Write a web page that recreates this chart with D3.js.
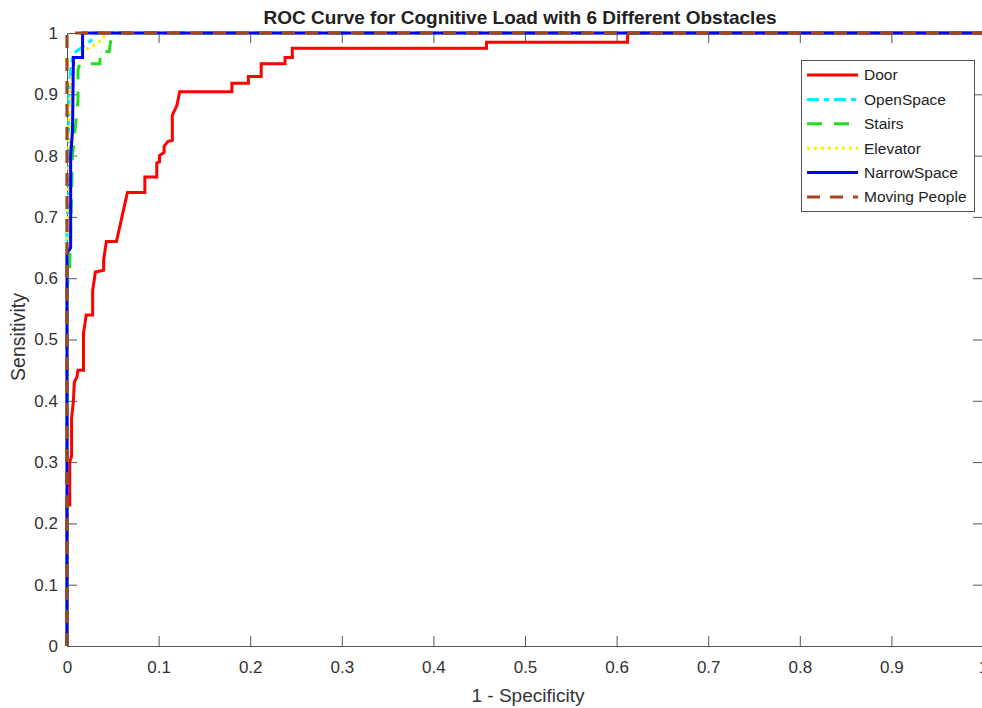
<!DOCTYPE html>
<html>
<head>
<meta charset="utf-8">
<script src="https://cdn.jsdelivr.net/npm/d3@7"></script>
<style>
  html, body { margin: 0; padding: 0; background: #fff; }
  svg { display: block; font-family: "Liberation Sans", Arial, Helvetica, sans-serif; }
</style>
</head>
<body>
<svg id="chart" width="982" height="708"></svg>
<script>
// ---- Data ----
const seriesNames = ["Door", "OpenSpace", "Stairs", "Elevator", "NarrowSpace", "Moving People"];

const doorFPR = [0,0,0.003,0.003,0.005,0.005,0.007,0.008,0.011,0.012,0.018,0.018,0.021,0.028,0.028,0.031,0.04,0.04,0.043,0.054,0.057,0.06,0.063,0.066,0.085,0.085,0.098,0.098,0.101,0.101,0.106,0.106,0.11,0.115,0.115,0.12,0.123,0.18,0.18,0.198,0.198,0.212,0.212,0.238,0.238,0.246,0.246,0.458,0.458,0.612,0.612,1];
const doorTPR = [0,0.23,0.23,0.30,0.31,0.37,0.40,0.43,0.44,0.45,0.45,0.51,0.54,0.54,0.58,0.61,0.613,0.63,0.66,0.66,0.68,0.70,0.72,0.74,0.74,0.765,0.765,0.788,0.79,0.80,0.805,0.815,0.823,0.825,0.866,0.882,0.904,0.904,0.918,0.918,0.929,0.929,0.95,0.95,0.96,0.96,0.975,0.975,0.985,0.985,1,1];

const openFPR = [0,0,0.002,0.002,0.004,0.006,0.010,0.020,0.028,0.030,1];
const openTPR = [0,0.70,0.72,0.90,0.94,0.96,0.97,0.98,0.99,1,1];

const stairsFPR = [0,0,0.003,0.006,0.012,0.012,0.014,0.036,0.036,0.046,0.048,0.05,1];
const stairsTPR = [0,0.58,0.62,0.80,0.89,0.94,0.95,0.95,0.97,0.97,0.99,1,1];

const elevFPR = [0,0,0.001,0.002,0.004,0.008,0.012,0.016,0.023,0.03,0.039,0.042,1];
const elevTPR = [0,0.64,0.70,0.85,0.92,0.95,0.96,0.97,0.975,0.98,0.99,1,1];

const narrowFPR = [0,0,0.004,0.004,0.006,0.007,0.017,0.017,1];
const narrowTPR = [0,0.64,0.65,0.80,0.84,0.96,0.96,1,1];

const movingFPR = [0,0,1];
const movingTPR = [0,1,1];

const xTicks = [0,0.1,0.2,0.3,0.4,0.5,0.6,0.7,0.8,0.9,1];
const yTicks = [0,0.1,0.2,0.3,0.4,0.5,0.6,0.7,0.8,0.9,1];

const titleText = "ROC Curve for Cognitive Load with 6 Different Obstacles";
const xLabel = "1 - Specificity";
const yLabel = "Sensitivity";

// ---- Styles ----
const styles = [
  {color: "#ff0000", width: 3,   dash: null},
  {color: "#00eeff", width: 3,   dash: "12,5,5,5"},
  {color: "#22dd22", width: 3,   dash: "15,12"},
  {color: "#ffee00", width: 3,   dash: "3,4"},
  {color: "#0000ff", width: 3,   dash: null},
  {color: "#a0481c", width: 3.2, dash: "13,10"}
];

const seriesData = [
  [doorFPR, doorTPR],
  [openFPR, openTPR],
  [stairsFPR, stairsTPR],
  [elevFPR, elevTPR],
  [narrowFPR, narrowTPR],
  [movingFPR, movingTPR]
].map(([xs, ys]) => xs.map((v, i) => [v, ys[i]]));

// ---- Layout ----
const svg = d3.select("#chart");
const mLeft = 67, mRight = 983, mTop = 33, mBottom = 646;

const x = d3.scaleLinear().domain([0, 1]).range([mLeft, mRight]);
const y = d3.scaleLinear().domain([0, 1]).range([mBottom, mTop]);

svg.append("rect").attr("width", 982).attr("height", 708).attr("fill", "#fff");

const axisColor = "#555";
const fmt = d => d === 0 ? "0" : d === 1 ? "1" : d3.format(".1f")(d);

const gx = svg.append("g").attr("transform", `translate(0,${mBottom})`)
  .call(d3.axisBottom(x).tickValues(xTicks).tickFormat(fmt).tickSizeInner(-10).tickSizeOuter(0).tickPadding(15));
const gy = svg.append("g").attr("transform", `translate(${mLeft},0)`)
  .call(d3.axisLeft(y).tickValues(yTicks).tickFormat(fmt).tickSizeInner(-10).tickSizeOuter(0).tickPadding(9));
const gt = svg.append("g").attr("transform", `translate(0,${mTop})`)
  .call(d3.axisTop(x).tickValues(xTicks).tickFormat("").tickSizeInner(-10).tickSizeOuter(0));
const gr = svg.append("g").attr("transform", `translate(${mRight},0)`)
  .call(d3.axisRight(y).tickValues(yTicks).tickFormat("").tickSizeInner(-10).tickSizeOuter(0));

[gx, gy, gt, gr].forEach(g => {
  g.selectAll("path.domain").attr("stroke", axisColor).attr("stroke-width", 1);
  g.selectAll(".tick line").attr("stroke", axisColor).attr("stroke-width", 1);
  g.selectAll(".tick text").attr("fill", "#333").attr("font-size", "17px")
    .attr("font-family", "'Liberation Sans', Arial, sans-serif");
});

// ---- Lines ----
const line = d3.line().x(d => x(d[0])).y(d => y(d[1]));
seriesData.forEach((data, i) => {
  const s = styles[i];
  svg.append("path")
    .datum(data)
    .attr("d", line)
    .attr("fill", "none")
    .attr("stroke", s.color)
    .attr("stroke-width", s.width)
    .attr("stroke-dasharray", s.dash)
    .attr("stroke-linejoin", "miter");
});

// ---- Title & labels ----
svg.append("text").attr("x", 520).attr("y", 24).attr("text-anchor", "middle")
  .attr("font-size", "19px").attr("font-weight", "bold").attr("fill", "#222").text(titleText);
svg.append("text").attr("x", 528).attr("y", 702).attr("text-anchor", "middle")
  .attr("font-size", "19px").attr("fill", "#333").text(xLabel);
svg.append("text").attr("transform", "translate(25,337) rotate(-90)").attr("text-anchor", "middle")
  .attr("font-size", "19.5px").attr("fill", "#333").text(yLabel);

// ---- Legend ----
const lg = svg.append("g");
lg.append("rect").attr("x", 801.5).attr("y", 60.5).attr("width", 173).attr("height", 151)
  .attr("fill", "#fff").attr("stroke", "#555").attr("stroke-width", 1);
const legendY = d3.scalePoint().domain(seriesNames).range([75, 197]);
seriesNames.forEach((name, i) => {
  const s = styles[i];
  const yy = legendY(name);
  lg.append("line").attr("x1", 807).attr("x2", 858).attr("y1", yy).attr("y2", yy)
    .attr("stroke", s.color).attr("stroke-width", s.width).attr("stroke-dasharray", s.dash);
  lg.append("text").attr("x", 864).attr("y", yy).attr("dy", "0.35em")
    .attr("font-size", "15.5px").attr("fill", "#222").text(name);
});
</script>
</body>
</html>
